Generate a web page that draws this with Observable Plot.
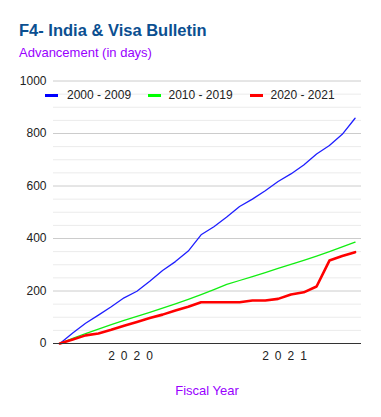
<!DOCTYPE html>
<html>
<head>
<meta charset="utf-8">
<script src="https://cdn.jsdelivr.net/npm/d3@7"></script>
<script src="https://cdn.jsdelivr.net/npm/@observablehq/plot@0.6"></script>
<style>
  body { margin: 0; background: #fff; font-family: "Liberation Sans", Arial, sans-serif; }
  #wrap { position: relative; width: 381px; height: 417px; overflow: hidden; }
  #wrap svg { position: absolute; left: 0; top: 0; }
  .t { position: absolute; line-height: 1; white-space: nowrap; }
  #title { left: 19px; top: 21.5px; font-size: 16.5px; font-weight: bold; color: #0b4f91; }
  #subtitle { left: 19px; top: 46px; font-size: 13px; color: #9900ff; }
  #xtitle { left: 53px; width: 308px; top: 384px; font-size: 13px; color: #9900ff; text-align: center; }
  .lg { position: absolute; top: 89px; font-size: 12px; color: #222; line-height: 1; }
  .sw { position: absolute; top: 93.5px; width: 13px; height: 3.5px; }
  g[aria-label="x-axis tick label"] text { letter-spacing: 6px; }
</style>
</head>
<body>
<div id="wrap"></div>
<script>
// Categories: months of fiscal years 2020 and 2021 (Oct 2019 .. Sep 2021)
const months = ["Oct 2019","Nov 2019","Dec 2019","Jan 2020","Feb 2020","Mar 2020","Apr 2020","May 2020","Jun 2020","Jul 2020","Aug 2020","Sep 2020",
                "Oct 2020","Nov 2020","Dec 2020","Jan 2021","Feb 2021","Mar 2021","Apr 2021","May 2021","Jun 2021","Jul 2021","Aug 2021","Sep 2021"];
const seriesNames = ["2000 - 2009", "2010 - 2019", "2020 - 2021"];
const s2000 = [0, 40, 77, 108, 140, 174, 199, 237, 278, 312, 352, 414, 445, 482, 522, 550, 582, 617, 646, 680, 722, 754, 797, 858];
const s2010 = [0, 20, 38, 55, 72, 88, 103, 119, 135, 151, 168, 186, 205, 225, 240, 255, 270, 286, 301, 317, 333, 350, 368, 386];
const s2020 = [0, 15, 31, 38, 52, 68, 82, 97, 110, 126, 140, 157, 157, 157, 157, 164, 164, 170, 187, 195, 217, 316, 333, 348];
const yTicks = [0, 200, 400, 600, 800, 1000];
const yMinor = [50, 100, 150, 250, 300, 350, 450, 500, 550, 650, 700, 750, 850, 900, 950];
const yearLabels = ["2020", "2021"];
const yearTickPos = [5.5, 17.5];

const colors = ["#1f1fff", "#11ee11", "#ff0000"];
const widths = [1.3, 1.3, 2.6];

const rows = [];
[s2000, s2010, s2020].forEach((arr, k) => arr.forEach((v, i) => rows.push({i, v, series: seriesNames[k], month: months[i]})));

const wrap = document.getElementById("wrap");

const chart = Plot.plot({
  width: 381,
  height: 417,
  marginLeft: 53,
  marginRight: 20,
  marginTop: 80.5,
  marginBottom: 74,
  style: { fontFamily: "'Liberation Sans', Arial, sans-serif", fontSize: "12px", color: "#222", background: "transparent" },
  x: { domain: [-0.5, 23.5], axis: null },
  y: { domain: [0, 1000], axis: null },
  marks: [
    Plot.ruleY(yMinor, { stroke: "#ebebeb", strokeWidth: 1 }),
    Plot.ruleY(yTicks.filter(d => d > 0), { stroke: "#cccccc", strokeWidth: 1 }),
    Plot.axisY({ ticks: yTicks, tickSize: 0, tickPadding: 7, label: null, tickFormat: d => String(d), fontSize: 12 }),
    Plot.axisX({ ticks: yearTickPos, tickSize: 0, tickPadding: 8, label: null, tickFormat: (d, j) => yearLabels[yearTickPos.indexOf(d)], dx: 3, fontSize: 12 }),
    ...seriesNames.map((name, k) =>
      Plot.line(rows.filter(r => r.series === name), { x: "i", y: "v", stroke: colors[k], strokeWidth: widths[k], strokeLinejoin: "round", strokeLinecap: "round" })
    ),
    Plot.ruleY([0], { stroke: "#333333", strokeWidth: 1.2 })
  ]
});
wrap.appendChild(chart);

function addDiv(id, cls, text) {
  const d = document.createElement("div");
  if (id) d.id = id;
  d.className = cls;
  d.textContent = text;
  wrap.appendChild(d);
  return d;
}
addDiv("title", "t", "F4- India & Visa Bulletin");
addDiv("subtitle", "t", "Advancement (in days)");
addDiv("xtitle", "t", "Fiscal Year");

const swX = [45, 147.5, 249.5];
const txX = [67, 168.5, 270.5];
seriesNames.forEach((name, k) => {
  const s = document.createElement("div");
  s.className = "sw";
  s.style.left = swX[k] + "px";
  s.style.background = colors[k] === "#1f1fff" ? "#0000ff" : (k === 1 ? "#00ff00" : "#ff0000");
  wrap.appendChild(s);
  const t = document.createElement("div");
  t.className = "lg";
  t.style.left = txX[k] + "px";
  t.textContent = name;
  wrap.appendChild(t);
});
</script>
</body>
</html>
